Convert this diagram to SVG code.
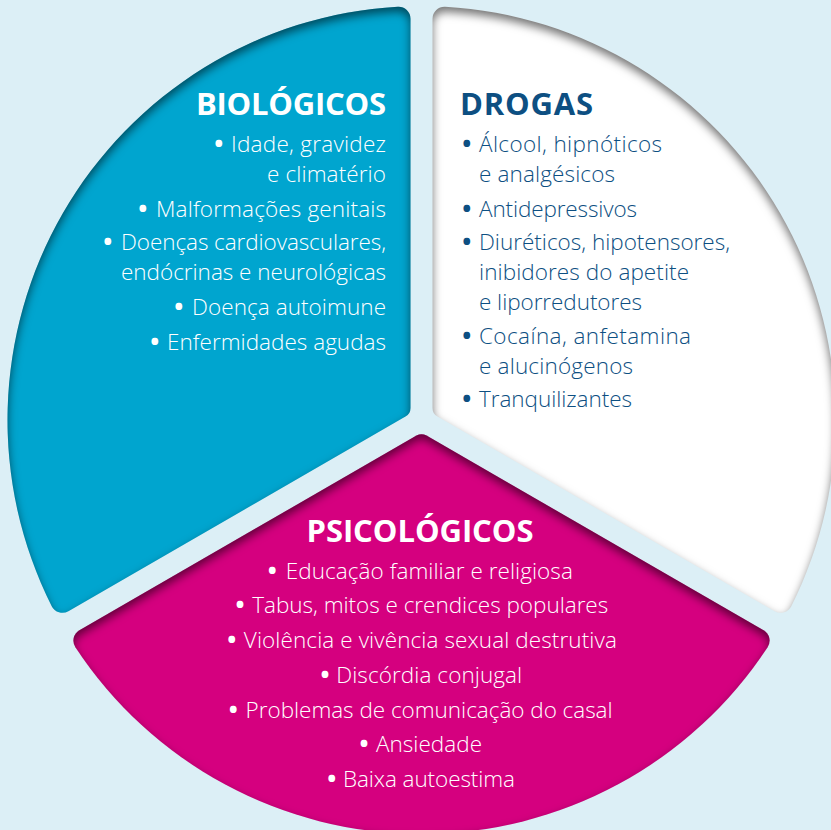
<svg xmlns="http://www.w3.org/2000/svg" width="831" height="830" viewBox="0 0 831 830">
  <defs>
    <!-- soft inner shadow, strongest along the upper edges -->
    <filter id="inset" x="-10%" y="-10%" width="120%" height="120%" color-interpolation-filters="sRGB">
      <feComponentTransfer in="SourceAlpha" result="inv">
        <feFuncA type="table" tableValues="1 0"/>
      </feComponentTransfer>
      <feOffset in="inv" dx="0" dy="5" result="off"/>
      <feGaussianBlur in="off" stdDeviation="5" result="blur"/>
      <feFlood flood-color="#000" flood-opacity="0.55"/>
      <feComposite in2="blur" operator="in" result="shadow"/>
      <feComposite in="shadow" in2="SourceAlpha" operator="in" result="innerShadow"/>
      <feMerge>
        <feMergeNode in="SourceGraphic"/>
        <feMergeNode in="innerShadow"/>
      </feMerge>
    </filter>
  </defs>
  <style>
    .sector { filter: url(#inset); }
    .bio { fill: #00a5cf; }
    .drg { fill: #ffffff; }
    .psi { fill: #d5007f; }
    .title { font-family: "Open Sans", "Liberation Sans", sans-serif; font-weight: 700; font-size: 31px; }
    .item { font-family: "Open Sans", "Liberation Sans", sans-serif; font-weight: 300; font-size: 22.5px; }
    .dot { font-weight: 700; font-size: 24px; }
    .onColor { fill: #ffffff; }
    .onWhite { fill: #0d4f82; }
  </style>

  <rect width="831" height="830" fill="#dceff6"/>

  <!-- upper-left sector: right-aligned list -->
  <g id="biologicos">
    <path class="sector bio" d="M 410.5 407.88 L 410.5 18.66 A 12 12 0 0 0 397.81 6.67 A 414 414 0 0 0 51.71 606.15 A 12 12 0 0 0 68.43 611.14 L 405.5 416.54 A 10 10 0 0 0 410.5 407.88 Z"/>
    <g class="onColor">
      <text class="title" x="386" y="115" text-anchor="end" textLength="190">BIOLÓGICOS</text>
      <text class="item" y="152"><tspan class="dot" x="222" text-anchor="middle">• </tspan><tspan x="386" text-anchor="end" textLength="155">Idade, gravidez</tspan></text>
      <text class="item" x="386" y="182" text-anchor="end" textLength="119">e climatério</text>
      <text class="item" y="216.5"><tspan class="dot" x="146" text-anchor="middle">• </tspan><tspan x="386" text-anchor="end" textLength="230">Malformações genitais</tspan></text>
      <text class="item" y="250"><tspan class="dot" x="111" text-anchor="middle">• </tspan><tspan x="386" text-anchor="end" textLength="265">Doenças cardiovasculares,</tspan></text>
      <text class="item" x="386" y="280" text-anchor="end" textLength="265">endócrinas e neurológicas</text>
      <text class="item" y="315"><tspan class="dot" x="182" text-anchor="middle">• </tspan><tspan x="386" text-anchor="end" textLength="194">Doença autoimune</tspan></text>
      <text class="item" y="350"><tspan class="dot" x="158" text-anchor="middle">• </tspan><tspan x="386" text-anchor="end" textLength="219">Enfermidades agudas</tspan></text>
    </g>
  </g>

  <!-- upper-right sector: left-aligned list -->
  <g id="drogas">
    <path class="sector drg" d="M 432.5 407.88 L 432.5 18.66 A 12 12 0 0 1 445.19 6.67 A 414 414 0 0 1 791.29 606.15 A 12 12 0 0 1 774.57 611.14 L 437.5 416.54 A 10 10 0 0 1 432.5 407.88 Z"/>
    <g class="onWhite">
      <text class="title" x="460" y="115" textLength="133">DROGAS</text>
      <text class="item" y="152"><tspan class="dot" x="469.8" text-anchor="middle">• </tspan><tspan x="479" textLength="183">Álcool, hipnóticos</tspan></text>
      <text class="item" x="479" y="182" textLength="136">e analgésicos</text>
      <text class="item" y="216.5"><tspan class="dot" x="469.8" text-anchor="middle">• </tspan><tspan x="479" textLength="158">Antidepressivos</tspan></text>
      <text class="item" y="250"><tspan class="dot" x="469.8" text-anchor="middle">• </tspan><tspan x="479" textLength="251">Diuréticos, hipotensores,</tspan></text>
      <text class="item" x="479" y="280" textLength="210">inibidores do apetite</text>
      <text class="item" x="479" y="310" textLength="163">e liporredutores</text>
      <text class="item" y="343.5"><tspan class="dot" x="469.8" text-anchor="middle">• </tspan><tspan x="479" textLength="212">Cocaína, anfetamina</tspan></text>
      <text class="item" x="479" y="373.5" textLength="154">e alucinógenos</text>
      <text class="item" y="407"><tspan class="dot" x="469.8" text-anchor="middle">• </tspan><tspan x="479" textLength="153">Tranquilizantes</tspan></text>
    </g>
  </g>

  <!-- lower sector: centred list -->
  <g id="psicologicos">
    <path class="sector psi" d="M 416.5 435.59 L 79.43 630.2 A 12 12 0 0 0 75.4 647.17 A 414 414 0 0 0 767.6 647.17 A 12 12 0 0 0 763.57 630.2 L 426.5 435.59 A 10 10 0 0 0 416.5 435.59 Z"/>
    <g class="onColor">
      <text class="title" x="306.5" y="541.7" textLength="227">PSICOLÓGICOS</text>
      <text class="item" y="578.5"><tspan class="dot" x="275.4" text-anchor="middle">• </tspan><tspan x="285.8" textLength="287">Educação familiar e religiosa</tspan></text>
      <text class="item" y="613.25"><tspan class="dot" x="243.1" text-anchor="middle">• </tspan><tspan x="252.2" textLength="356">Tabus, mitos e crendices populares</tspan></text>
      <text class="item" y="648"><tspan class="dot" x="234.8" text-anchor="middle">• </tspan><tspan x="243.8" textLength="373">Violência e vivência sexual destrutiva</tspan></text>
      <text class="item" y="682.75"><tspan class="dot" x="328.1" text-anchor="middle">• </tspan><tspan x="336.2" textLength="186">Discórdia conjugal</tspan></text>
      <text class="item" y="717.5"><tspan class="dot" x="236.4" text-anchor="middle">• </tspan><tspan x="245.6" textLength="367">Problemas de comunicação do casal</tspan></text>
      <text class="item" y="752.25"><tspan class="dot" x="367.1" text-anchor="middle">• </tspan><tspan x="376" textLength="106">Ansiedade</tspan></text>
      <text class="item" y="787"><tspan class="dot" x="334.8" text-anchor="middle">• </tspan><tspan x="343" textLength="172">Baixa autoestima</tspan></text>
    </g>
  </g>
</svg>
